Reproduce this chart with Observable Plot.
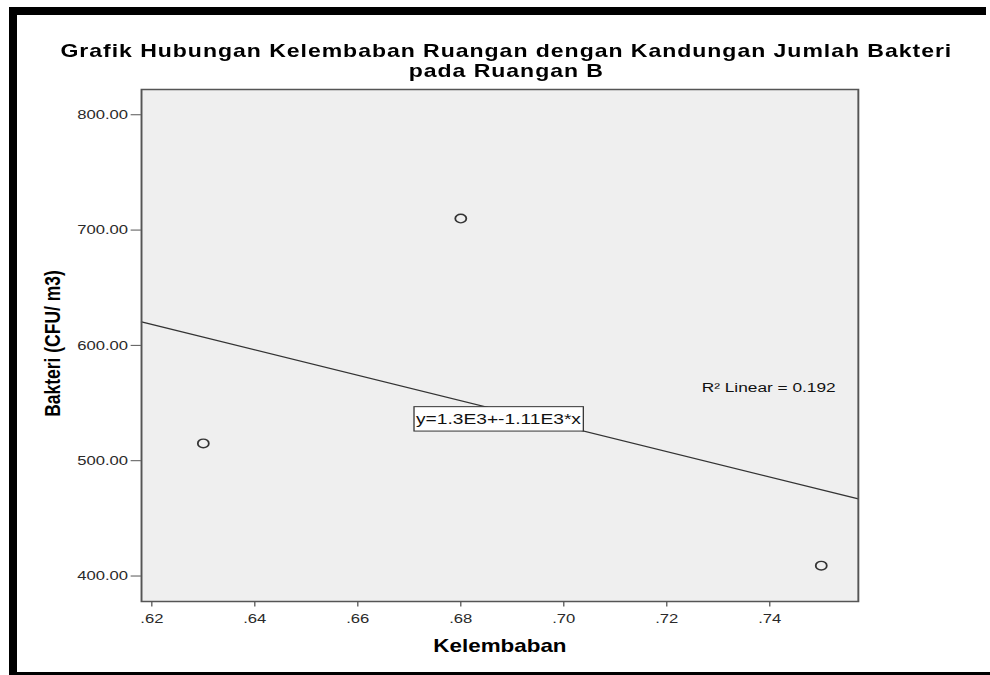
<!DOCTYPE html>
<html>
<head>
<meta charset="utf-8">
<script src="https://cdn.jsdelivr.net/npm/d3@7"></script>
<script src="https://cdn.jsdelivr.net/npm/@observablehq/plot@0.6"></script>
<style>
  html, body { margin: 0; padding: 0; background: #fff; }
  #wrap { position: relative; width: 990px; height: 675px; overflow: hidden; background: #fff; }
  #chart { position: absolute; left: 0; top: 0; width: 773px; height: 675px; transform-origin: 0 0; }
  .bar { position: absolute; background: #000; }
</style>
</head>
<body>
<div id="wrap">
  <div id="chart"></div>
  <div class="bar" style="left:9px; top:7px; width:977px; height:8px;"></div>
  <div class="bar" style="left:9px; top:7px; width:8px; height:668px;"></div>
  <div class="bar" style="left:9px; top:672px; width:981px; height:3px;"></div>
</div>
<script>
// ---- data ----
const kelembaban = [0.63, 0.68, 0.75];
const bakteri = [515, 710, 409];
const xTicks = [0.62, 0.64, 0.66, 0.68, 0.70, 0.72, 0.74];
const yTicks = [400, 500, 600, 700, 800];
const xDomain = [0.618, 0.7572];
const yDomain = [377.9, 821.9];
const titleLines = ["Grafik Hubungan Kelembaban Ruangan dengan Kandungan Jumlah Bakteri", "pada Ruangan B"];
const xLabel = "Kelembaban";
const yLabel = "Bakteri (CFU/ m3)";
const fitLabel = "y=1.3E3+-1.11E3*x";
const r2Label = "R\u00B2 Linear = 0.192";

// ---- layout (SPSS export is stretched horizontally) ----
const W = 773, H = 675, SX = 990 / W;

const points = kelembaban.map((x, i) => ({x, y: bakteri[i]}));
const mx = d3.mean(kelembaban), my = d3.mean(bakteri);
const slope = d3.sum(points, d => (d.x - mx) * (d.y - my)) / d3.sum(points, d => (d.x - mx) ** 2);
const intercept = my - slope * mx;
const fit = xDomain.map(x => ({x, y: intercept + slope * x}));

const plot = Plot.plot({
  width: W,
  height: H,
  marginLeft: 110,
  marginRight: 103.3,
  marginTop: 89,
  marginBottom: 74,
  x: {domain: xDomain},
  y: {domain: yDomain},
  style: {fontFamily: "'Liberation Sans', Arial, sans-serif", background: "white", overflow: "visible"},
  marks: [
    Plot.frame({fill: "#efefef", stroke: null}),
    Plot.axisX(xTicks, {
      tickFormat: d => d3.format(".2f")(d).replace(/^0/, ""),
      tickSize: 5.5, tickPadding: 6.8, fontSize: 13,
      stroke: "#555", fill: "#2a2a2a", label: null
    }),
    Plot.axisY(yTicks, {
      tickFormat: d3.format(".2f"),
      tickSize: 8, tickPadding: 2.5, fontSize: 13,
      stroke: "#555", fill: "#2a2a2a", label: null
    }),
    Plot.line(fit, {x: "x", y: "y", stroke: "#333", strokeWidth: 1.2}),
    Plot.dot(points, {x: "x", y: "y", r: 4.3, stroke: "#333", strokeWidth: 1.4, fill: "none"}),
    Plot.text([{x: mx, y: my}], {x: "x", y: "y", text: () => fitLabel, dx: 2.6, dy: 9.6, fontSize: 15, fill: "#111", lineAnchor: "middle"}),
    Plot.text([r2Label], {text: d => d, frameAnchor: "right", textAnchor: "end", lineAnchor: "middle", dx: -17.7, dy: 42.4, fontSize: 13.5, fill: "#111"}),
    Plot.frame({stroke: "#555", strokeWidth: 1.5}),
    Plot.text([titleLines[0]], {text: d => d, frameAnchor: "top", textAnchor: "middle", lineAnchor: "middle", dx: 5, dy: -37.8, fontSize: 18, fontWeight: "bold", fill: "#000"}),
    Plot.text([titleLines[1]], {text: d => d, frameAnchor: "top", textAnchor: "middle", lineAnchor: "middle", dx: 5, dy: -17.8, fontSize: 18, fontWeight: "bold", fill: "#000"}),
    Plot.text([xLabel], {text: d => d, frameAnchor: "bottom", textAnchor: "middle", lineAnchor: "middle", dy: 45.1, fontSize: 17.5, fontWeight: "bold", fill: "#000"}),
    Plot.text([yLabel], {text: d => d, frameAnchor: "left", textAnchor: "middle", lineAnchor: "middle", rotate: -90, dx: -69.6, dy: -2, fontSize: 17.5, fontWeight: "bold", fill: "#000"})
  ]
});

const holder = document.getElementById("chart");
holder.appendChild(plot);
holder.style.transform = `scaleX(${SX})`;

// the export's title has slightly wider tracking
d3.select(plot).selectAll("text")
  .filter(function() { return titleLines.includes(this.textContent); })
  .style("letter-spacing", "0.75px");

// white box behind the regression equation label
d3.select(plot).selectAll("text")
  .filter(function() { return this.textContent === fitLabel; })
  .each(function() {
    const b = this.getBBox();
    const rect = document.createElementNS("http://www.w3.org/2000/svg", "rect");
    rect.setAttribute("x", b.x - 1.5);
    rect.setAttribute("y", b.y - 3);
    rect.setAttribute("width", b.width + 3);
    rect.setAttribute("height", b.height + 7);
    rect.setAttribute("fill", "#ffffff");
    rect.setAttribute("stroke", "#333");
    rect.setAttribute("stroke-width", "1");
    const tr = this.getAttribute("transform");
    if (tr) rect.setAttribute("transform", tr);
    this.parentNode.insertBefore(rect, this);
  });
</script>
</body>
</html>
